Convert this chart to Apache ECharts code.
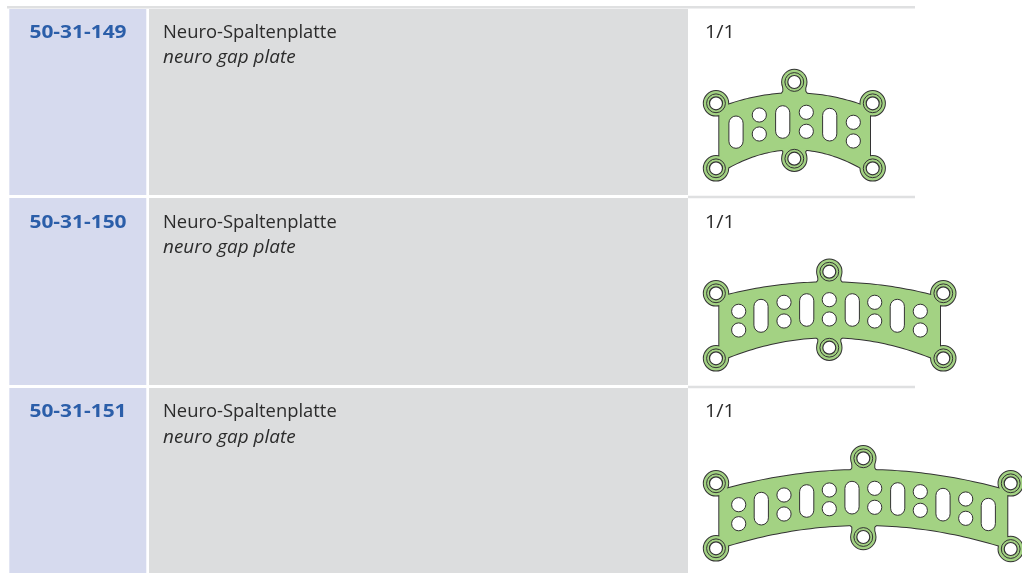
<!DOCTYPE html>
<html><head><meta charset="utf-8">
<style>html,body{margin:0;padding:0;background:#fff}#c{width:1022px;height:573px}</style>
<script src="https://cdn.jsdelivr.net/npm/echarts@6/dist/echarts.min.js"></script>
</head><body><div id="c"></div>
<script>
// table content
const codes = ['50-31-149', '50-31-150', '50-31-151'];
const namesDe = ['Neuro-Spaltenplatte', 'Neuro-Spaltenplatte', 'Neuro-Spaltenplatte'];
const namesEn = ['neuro gap plate', 'neuro gap plate', 'neuro gap plate'];
const scales = ['1/1', '1/1', '1/1'];
// row extents
const rowTop = [9, 198, 388];
const rowBottom = [195, 385, 573];
const ruleTop = [6, 195.7, 385.7];
const nameLineY = [33, 223, 412];
const enLineY = [58, 248, 438];
// plate features: screws [x,y]; slots [x,yTop,yBottom]; holes [x,y]
const screwsA = [[716,103.3],[872.7,103.3],[716,168.3],[872.7,168.3],[794.3,82],[794.3,158.7]];
const screwsB = [[716,293.3],[943.3,293.3],[716,358.3],[943.3,358.3],[829.3,271.7],[829.3,347.7]];
const screwsC = [[716,483.3],[1010.7,483.3],[716,548.3],[1010.7,549],[863.3,458.3],[863.3,537]];
const slotsA = [[736,116,148.3],[782.7,105.7,138.3],[829.7,108.3,141]];
const slotsB = [[761,299.3,332.3],[806.7,293.7,326.3],[852.3,293.7,326.3],[897.3,299.3,332.3]];
const slotsC = [[761.3,492.3,525],[806.7,484.7,517.3],[852,481.3,514],[897.7,482.7,515.3],[943,488.3,521],[988.3,498.3,530.7]];
const holesA = [[759.3,115],[759.3,134],[806.3,112.3],[806.3,131.3],[853.3,122.3],[853.3,141]];
const holesB = [[738.7,311.3],[738.7,330],[784,302.3],[784,321],[829.3,299.7],[829.3,319],[874.7,302.3],[874.7,321],[920.3,311.3],[920.3,330]];
const holesC = [[738.7,504.7],[738.7,523.7],[784,495],[784,514],[829.3,490],[829.3,508.7],[874.7,488.3],[874.7,507.3],[920.3,491.7],[920.3,510.3],[965.7,499],[965.7,518.3]];
// body edges: [left x, right x, top mid y, top end y, bottom mid y, bottom end y]
const bodyA = [719.3,870,93.3,104,149.3,166.7];
const bodyB = [719.3,940,282.3,294.3,337.3,356.7];
const bodyC = [719.3,1007.3,470,487.7,525,545];
const plateScrews = [screwsA, screwsB, screwsC];
const plateSlots = [slotsA, slotsB, slotsC];
const plateHoles = [holesA, holesB, holesC];
const plateBodies = [bodyA, bodyB, bodyC];

const BLUE='#d6daee', GRAY='#dcddde', RULE='#dfe0e1', GREEN='#a3d283', INK='#333333', CODE='#2b5ea9', TXT='#2b2b2b';
const FONT='"Open Sans", "Noto Sans", sans-serif';

function rectOf(api,x0,y0,x1,y1,style,r){
  const a=api.coord([x0,y0]), b=api.coord([x1,y1]);
  const shape={x:a[0],y:a[1],width:b[0]-a[0],height:b[1]-a[1]};
  if(r) shape.r=r;
  return {type:'rect',shape,style};
}
function renderCells(params,api){
  const i=api.value(0);
  return {type:'group',children:[
    rectOf(api,9.3,rowTop[i],146.3,rowBottom[i],{fill:BLUE}),
    rectOf(api,149,rowTop[i],688,rowBottom[i],{fill:GRAY}),
    rectOf(api,i===0?7:688,ruleTop[i],915,ruleTop[i]+2.5,{fill:RULE})
  ]};
}
function textEl(api,x,y,text,font,fill,align,sx){
  const p=api.coord([x,y]);
  return {type:'text',x:p[0],y:p[1],scaleX:sx,scaleY:1,style:{text,fill,font:font,textAlign:align,textVerticalAlign:'middle'}};
}
function renderText(params,api){
  const i=api.value(0);
  return {type:'group',children:[
    textEl(api,78,nameLineY[i],codes[i],'bold 18.5px '+FONT,CODE,'center',1.13),
    textEl(api,163,nameLineY[i],namesDe[i],'17.5px '+FONT,TXT,'left',1.05),
    textEl(api,163,enLineY[i],namesEn[i],'italic 17.5px '+FONT,TXT,'left',1.08),
    textEl(api,705,nameLineY[i],scales[i],'17.5px '+FONT,TXT,'left',1.13)
  ]};
}
function renderPlate(params,api){
  const i=api.value(0);
  const screws=plateScrews[i], slots=plateSlots[i], holes=plateHoles[i], b=plateBodies[i];
  const [L,R,tm,te,bm,be]=b;
  const cx=screws[4][0];
  const R0=api.size([1,0])[0];
  const kT=(te-tm)/Math.pow(cx-730,2), kB=(be-bm)/Math.pow(cx-730,2);
  const pts=[];
  for(let k=0;k<=60;k++){const x=L+(R-L)*k/60; pts.push(api.coord([x,tm+kT*(x-cx)*(x-cx)]));}
  for(let k=60;k>=0;k--){const x=L+(R-L)*k/60; pts.push(api.coord([x,bm+kB*(x-cx)*(x-cx)]));}
  const circ=(s,r,style)=>{const p=api.coord(s);return {type:'circle',shape:{cx:p[0],cy:p[1],r:r*R0},style};};
  const neckTop=(fill)=>{
    const t=screws[4], y=tm;
    return {type:'polygon',shape:{points:[
      api.coord([t[0]-11,t[1]]),api.coord([t[0]+11,t[1]]),api.coord([t[0]+11,y-2]),
      api.coord([t[0]+13,y+1]),api.coord([t[0]-13,y+1]),api.coord([t[0]-11,y-2])]},style:fill};
  };
  const neckBot=(fill)=>{
    const t=screws[5], y=bm;
    return {type:'polygon',shape:{points:[
      api.coord([t[0]-11,t[1]]),api.coord([t[0]+11,t[1]]),api.coord([t[0]+11,y+2]),
      api.coord([t[0]+14,y-1]),api.coord([t[0]-14,y-1]),api.coord([t[0]-11,y+2])]},style:fill};
  };
  const line={fill:GREEN,stroke:INK,lineWidth:2};
  const flat={fill:GREEN};
  const kids=[];
  // stroked silhouette, then fill-only copy so that only the outer edge of the union stays dark
  [line,flat].forEach(st=>{
    kids.push({type:'polygon',shape:{points:pts},style:st});
    screws.forEach(s=>kids.push(circ(s,12.2,st)));
    kids.push(neckTop(st)); kids.push(neckBot(st));
  });
  screws.forEach(s=>{
    kids.push(circ(s,9.4,{fill:'none',stroke:INK,lineWidth:1}));
    kids.push(circ(s,6.5,{fill:'#fff',stroke:INK,lineWidth:1.2}));
  });
  holes.forEach(h=>kids.push(circ(h,7.1,{fill:'#fff',stroke:INK,lineWidth:1})));
  slots.forEach(s=>kids.push(rectOf(api,s[0]-7.1,s[1],s[0]+7.1,s[2],{fill:'#fff',stroke:INK,lineWidth:1},7.1)));
  return {type:'group',children:kids};
}
const rowIdx=codes.map((c,i)=>[i]);
const chart=echarts.init(document.getElementById('c'),null,{renderer:'canvas'});
chart.setOption({
  animation:false,
  backgroundColor:'#fff',
  grid:{left:0,right:0,top:0,bottom:0},
  xAxis:{type:'value',min:0,max:1022,show:false},
  yAxis:{type:'value',min:0,max:573,inverse:true,show:false},
  tooltip:{show:false},
  series:[
    {type:'custom',name:'cells',renderItem:renderCells,data:rowIdx,silent:true,z:1},
    {type:'custom',name:'text',renderItem:renderText,data:rowIdx,silent:true,z:3},
    {type:'custom',name:'plates',renderItem:renderPlate,data:rowIdx,silent:true,z:2}
  ]
});
</script></body></html>
